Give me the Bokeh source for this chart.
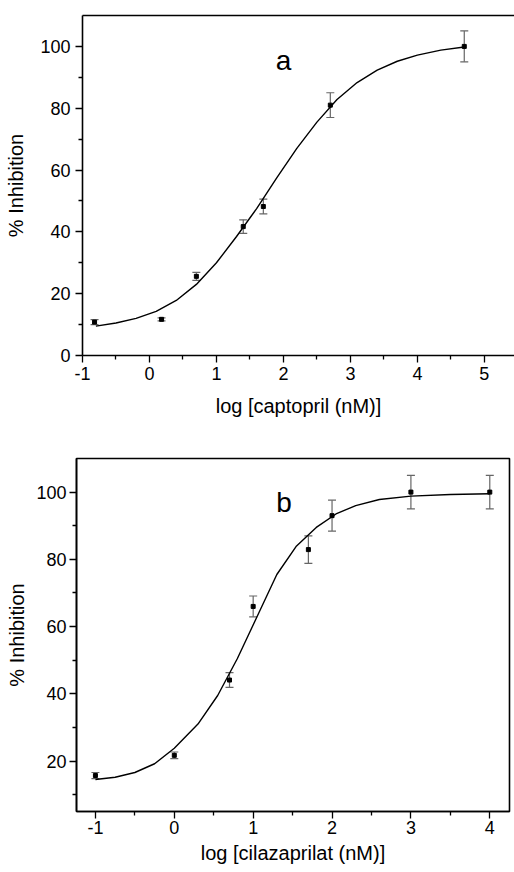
from bokeh.plotting import figure
from bokeh.models import (Range1d, FixedTicker, Whisker, TeeHead, ColumnDataSource,
                          Label, LinearAxis, CustomJSTickFormatter)
from bokeh.embed import file_html
from bokeh.resources import INLINE

# ---------------- data: panel a (captopril) ----------------
a_x = [-0.82, 0.18, 0.70, 1.40, 1.70, 2.70, 4.70]
a_y = [10.8, 11.7, 25.6, 41.7, 48.2, 81.0, 100.0]
a_err = [0.8, 0.5, 1.3, 2.2, 2.4, 4.0, 5.0]
a_fit_x = [-0.8, -0.5, -0.2, 0.1, 0.4, 0.7, 1.0, 1.3, 1.6, 1.9, 2.2, 2.5,
           2.8, 3.1, 3.4, 3.7, 4.0, 4.35, 4.7]
a_fit_y = [9.5, 10.5, 12.0, 14.3, 17.8, 23.0, 30.0, 38.5, 47.5, 57.5, 67.0, 75.5,
           82.8, 88.3, 92.3, 95.2, 97.2, 98.8, 99.8]
a_xticks = [-1, 0, 1, 2, 3, 4, 5]
a_xminor = [-0.5, 0.5, 1.5, 2.5, 3.5, 4.5]
a_yticks = [0, 20, 40, 60, 80, 100]
a_yminor = [10, 30, 50, 70, 90]

# ---------------- data: panel b (cilazaprilat) ----------------
b_x = [-1.0, 0.0, 0.70, 1.0, 1.70, 2.0, 3.0, 4.0]
b_y = [15.7, 21.7, 44.1, 66.0, 82.9, 93.0, 100.0, 100.0]
b_err = [0.9, 1.0, 2.2, 3.1, 4.1, 4.6, 5.0, 5.0]
b_fit_x = [-1.0, -0.75, -0.5, -0.25, 0.0, 0.3, 0.55, 0.8, 1.05, 1.3, 1.55, 1.8,
           2.05, 2.3, 2.6, 3.0, 3.5, 4.0]
b_fit_y = [14.5, 15.2, 16.6, 19.2, 23.8, 31.0, 39.5, 50.5, 63.0, 75.5, 84.0, 89.5,
           93.5, 96.0, 97.8, 98.8, 99.3, 99.5]
b_xticks = [-1, 0, 1, 2, 3, 4]
b_xminor = [-0.5, 0.5, 1.5, 2.5, 3.5]
b_yticks = [20, 40, 60, 80, 100]
b_yminor = [10, 30, 50, 70, 90]

FONT = "Liberation Sans"
ERR_COLOR = "#666666"


def style_axes(p, xt, xm, yt, ym, xlabel, xl_so, xt_so, yl_so, yt_so):
    p.xaxis.ticker = FixedTicker(ticks=xt, minor_ticks=xm)
    p.yaxis.ticker = FixedTicker(ticks=yt, minor_ticks=ym)
    for ax in (p.xaxis, p.yaxis):
        ax.formatter = CustomJSTickFormatter(code="return tick.toFixed(0);")
        ax.axis_line_width = 1.6
        ax.axis_line_color = "black"
        ax.major_tick_in = 0
        ax.major_tick_out = 7
        ax.minor_tick_in = 0
        ax.minor_tick_out = 4
        ax.major_tick_line_width = 1.3
        ax.minor_tick_line_width = 1.3
        ax.major_tick_line_color = "black"
        ax.minor_tick_line_color = "black"
        ax.major_label_text_font = FONT
        ax.major_label_text_font_size = "18px"
        ax.major_label_text_color = "black"
        ax.axis_label_text_font = FONT
        ax.axis_label_text_font_size = "20px"
        ax.axis_label_text_font_style = "normal"
        ax.axis_label_text_color = "black"
    p.xaxis.major_label_standoff = xt_so
    p.xaxis.axis_label_standoff = xl_so
    p.yaxis.major_label_standoff = yt_so
    p.yaxis.axis_label_standoff = yl_so
    p.xaxis.axis_label = xlabel
    p.yaxis.axis_label = "% Inhibition"
    p.grid.visible = False


def add_data(p, xs, ys, errs, fx, fy):
    src = ColumnDataSource(dict(x=xs, y=ys,
                                lower=[y - e for y, e in zip(ys, errs)],
                                upper=[y + e for y, e in zip(ys, errs)]))
    w = Whisker(base="x", lower="lower", upper="upper", source=src,
                line_color=ERR_COLOR, line_width=1.2,
                upper_head=TeeHead(size=8, line_color=ERR_COLOR, line_width=1.2),
                lower_head=TeeHead(size=8, line_color=ERR_COLOR, line_width=1.2))
    p.add_layout(w)
    p.line(fx, fy, line_color="black", line_width=1.4)
    p.scatter("x", "y", source=src, marker="square", size=4, color="black")


# ---------------- panel a ----------------
pa = figure(frame_width=432, frame_height=340,
            x_range=Range1d(-1, 5.45), y_range=Range1d(0, 110),
            min_border_left=82, min_border_right=0, min_border_top=15,
            min_border_bottom=85,
            output_backend="svg", toolbar_location=None)
pa.outline_line_color = None
style_axes(pa, a_xticks, a_xminor, a_yticks, a_yminor, "log [captopril (nM)]",
           xl_so=12, xt_so=4, yl_so=10, yt_so=5)
top_axis = LinearAxis(ticker=FixedTicker(ticks=[]), major_tick_out=0, minor_tick_out=0,
                      major_label_text_font_size="0px", axis_line_width=1.6,
                      axis_line_color="black")
pa.add_layout(top_axis, "above")
add_data(pa, a_x, a_y, a_err, a_fit_x, a_fit_y)
pa.add_layout(Label(x=2.0, y=95.3, text="a", text_align="center",
                    text_baseline="alphabetic", text_font=FONT,
                    text_font_size="28px", text_color="black"))

# ---------------- panel b ----------------
pb = figure(frame_width=433, frame_height=353,
            x_range=Range1d(-1.24, 4.25), y_range=Range1d(5, 110),
            min_border_left=76, min_border_right=5, min_border_top=18,
            min_border_bottom=61,
            output_backend="svg", toolbar_location=None)
pb.outline_line_color = "black"
pb.outline_line_width = 1.6
pb.outline_line_alpha = 1.0
style_axes(pb, b_xticks, b_xminor, b_yticks, b_yminor, "log [cilazaprilat (nM)]",
           xl_so=5, xt_so=2, yl_so=5, yt_so=3)
add_data(pb, b_x, b_y, b_err, b_fit_x, b_fit_y)
pb.add_layout(Label(x=1.39, y=96.9, text="b", text_align="center",
                    text_baseline="alphabetic", text_font=FONT,
                    text_font_size="28px", text_color="black"))

open("out.html", "w").write(file_html([pa, pb], INLINE))
